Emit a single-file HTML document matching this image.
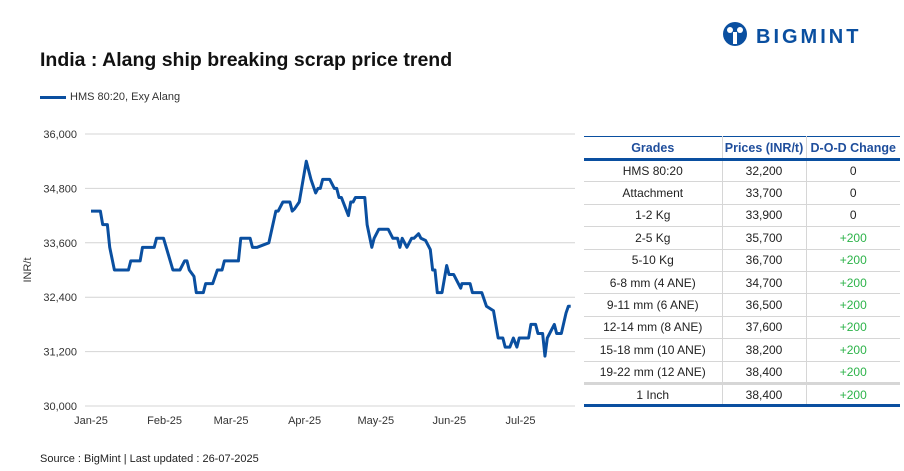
<!DOCTYPE html>
<html><head><meta charset="utf-8"><style>
body{margin:0;width:904px;height:471px;background:#fff;font-family:"Liberation Sans",sans-serif;position:relative;overflow:hidden}
.abs{position:absolute}
table{border-collapse:collapse;font-size:12px;color:#222;table-layout:fixed}
td,th{height:21px;line-height:14px;padding:0;text-align:center;border-bottom:1px solid #d6d6d6;box-sizing:border-box}
td{height:22.4px}
th{color:#1f4e9c;font-weight:bold;font-size:12.5px;border-bottom:3px solid #0a4fa0;height:23px}
td+td,th+th{border-left:1px solid #d6d6d6}
.g{color:#2db34a}
</style></head><body>
<div class="abs" style="left:722px;top:20px;">
<svg width="160" height="30"><circle cx="13" cy="14" r="12" fill="#0a4fa0"/><circle cx="8" cy="10" r="3" fill="#fff"/><circle cx="18" cy="10" r="3" fill="#fff"/><rect x="11" y="12" width="4" height="12" fill="#fff"/>
<text x="34" y="23" font-family="Liberation Sans" font-weight="bold" font-size="20" letter-spacing="3" fill="#0a4fa0">BIGMINT</text></svg></div>
<div class="abs" style="left:40px;top:49px;font-size:19.5px;font-weight:bold;color:#111">India : Alang ship breaking scrap price trend</div>
<div class="abs" style="left:40px;top:91px;font-size:11px;color:#333"><span style="display:inline-block;width:26px;height:3px;background:#0a4fa0;vertical-align:middle;margin-right:4px"></span>HMS 80:20, Exy Alang</div>
<svg class="abs" style="left:0;top:0" width="904" height="471" id="chart"></svg>
<div class="abs" style="left:40px;top:453px;font-size:11px;color:#222">Source : BigMint | Last updated : 26-07-2025</div>
<table class="abs" style="left:584px;top:136px;width:316px;border-top:1px solid #0a4fa0;border-bottom:3px solid #0a4fa0">
<tr><th style="width:138px">Grades</th><th style="width:84px">Prices (INR/t)</th><th>D-O-D Change</th></tr>
<tr><td>HMS 80:20</td><td>32,200</td><td>0</td></tr>
<tr><td>Attachment</td><td>33,700</td><td>0</td></tr>
<tr><td>1-2 Kg</td><td>33,900</td><td>0</td></tr>
<tr><td>2-5 Kg</td><td>35,700</td><td class="g">+200</td></tr>
<tr><td>5-10 Kg</td><td>36,700</td><td class="g">+200</td></tr>
<tr><td>6-8 mm (4 ANE)</td><td>34,700</td><td class="g">+200</td></tr>
<tr><td>9-11 mm (6 ANE)</td><td>36,500</td><td class="g">+200</td></tr>
<tr><td>12-14 mm (8 ANE)</td><td>37,600</td><td class="g">+200</td></tr>
<tr><td>15-18 mm (10 ANE)</td><td>38,200</td><td class="g">+200</td></tr>
<tr><td style="border-bottom:3px solid #d6d6d6">19-22 mm (12 ANE)</td><td style="border-bottom:3px solid #d6d6d6">38,400</td><td class="g" style="border-bottom:3px solid #d6d6d6">+200</td></tr>
<tr><td>1 Inch</td><td>38,400</td><td class="g">+200</td></tr>
</table>
<script>
const days=[0,4,5,7,8,10,16,17,21,22,27,28,31,35,38,40,41,42,44,45,48,49,52,54,56,57,63,64,68,69,71,76,79,80,82,85,86,87,89,92,94,96,97,98,99,102,104,105,106,107,110,111,112,113,117,118,120,121,123,127,129,131,132,133,135,137,138,140,141,143,145,146,147,148,150,152,153,155,158,158.5,162,163,167,169,170.5,172,174,176,177,179,180.5,182,183,187,188,190,191,193,194,195,198,199,201,203,204,205];
const values=[34300,34300,34000,34000,33500,33000,33000,33200,33200,33500,33500,33700,33700,33000,33000,33200,33200,33000,32860,32500,32500,32700,32700,33000,33000,33200,33200,33700,33700,33500,33500,33600,34300,34300,34500,34500,34300,34350,34500,35400,35000,34700,34800,34800,35000,35000,34800,34800,34600,34600,34200,34500,34500,34600,34600,34000,33500,33700,33900,33900,33700,33700,33500,33700,33500,33700,33700,33800,33700,33650,33450,33000,33000,32500,32500,33100,32900,32900,32600,32700,32700,32500,32500,32200,32150,32100,31500,31500,31300,31300,31500,31300,31500,31500,31800,31800,31600,31600,31100,31500,31800,31600,31600,32050,32200,32200];
const yTicks=[30000,31200,32400,33600,34800,36000];
const xTickLabels=["Jan-25","Feb-25","Mar-25","Apr-25","May-25","Jun-25","Jul-25"];
const xTickDays=[0,31,59,90,120,151,181];
const NS="http://www.w3.org/2000/svg";
const svg=document.getElementById('chart');
const X=d=>91+d*2.34;
const Y=v=>406-(v-30000)*(272/6000);
function mk(t,a){const e=document.createElementNS(NS,t);for(const k in a)e.setAttribute(k,a[k]);svg.appendChild(e);return e;}
yTicks.forEach(v=>{
 const l=mk('line',{x1:85,x2:575,y1:Y(v),y2:Y(v),stroke:'#d4d4d4','stroke-width':1});
 
 
 const t=mk('text',{x:77,y:Y(v)+4,'text-anchor':'end','font-size':11,fill:'#333','font-family':'Liberation Sans'});
 t.textContent=v.toLocaleString('en-US');
 
 
});
xTickDays.forEach((d,i)=>{
 const t=mk('text',{x:X(d)+(i*1),y:424,'text-anchor':'middle','font-size':11,fill:'#333','font-family':'Liberation Sans'});
 t.textContent=xTickLabels[i];
 
 
});
const yt=mk('text',{x:0,y:0,transform:'translate(31,270) rotate(-90)','text-anchor':'middle','font-size':11,fill:'#333','font-family':'Liberation Sans'});
yt.textContent='INR/t';


const p=mk('polyline',{points:days.map((d,i)=>X(d)+','+Y(values[i])).join(' '),fill:'none',stroke:'#0a4fa0','stroke-width':3,'stroke-linejoin':'round'});


</script>
</body></html>
